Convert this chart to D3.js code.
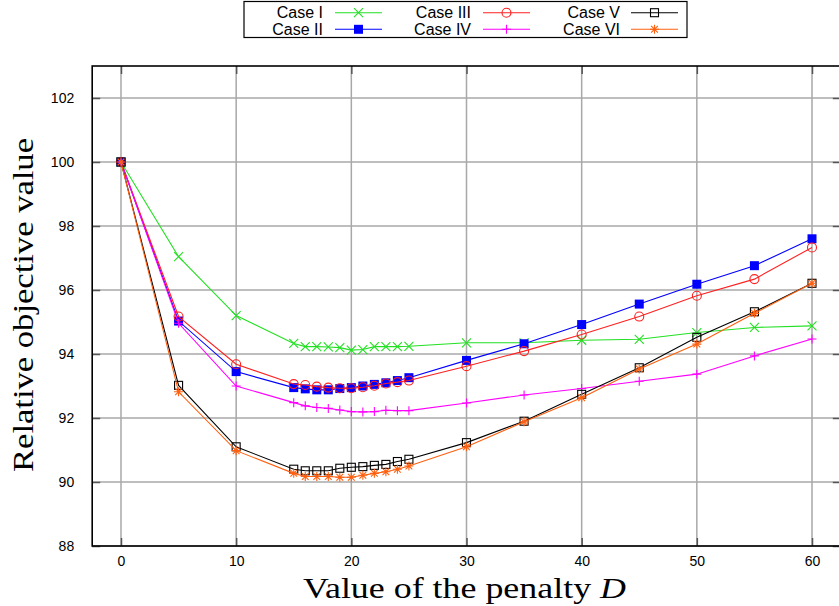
<!DOCTYPE html>
<html>
<head>
<meta charset="utf-8">
<script src="https://cdn.jsdelivr.net/npm/d3@7/dist/d3.min.js"></script>
<style>
html,body{margin:0;padding:0;background:#fff;}
svg{display:block;}
</style>
</head>
<body>
<svg id="chart" width="839" height="606"></svg>
<script>
const xValues = [0,5,10,15,16,17,18,19,20,21,22,23,24,25,30,35,40,45,50,55,60];
const caseI   = [100,97.04,95.2,94.33,94.23,94.23,94.22,94.2,94.12,94.14,94.23,94.23,94.23,94.24,94.35,94.35,94.43,94.46,94.67,94.83,94.88];
const caseII  = [100,95.03,93.45,92.95,92.91,92.88,92.88,92.92,92.95,93.0,93.05,93.1,93.17,93.26,93.8,94.32,94.92,95.56,96.18,96.76,97.6];
const caseIII = [100,95.17,93.68,93.06,93.03,92.98,92.95,92.93,92.93,92.96,93.01,93.08,93.12,93.17,93.62,94.09,94.61,95.17,95.82,96.34,97.33];
const caseIV  = [100,94.96,93.0,92.48,92.38,92.33,92.3,92.25,92.2,92.19,92.2,92.24,92.23,92.23,92.47,92.72,92.92,93.15,93.37,93.94,94.47];
const caseV   = [100,93.02,91.1,90.4,90.35,90.35,90.35,90.43,90.46,90.48,90.52,90.55,90.64,90.71,91.23,91.9,92.74,93.57,94.52,95.32,96.21];
const caseVI  = [100,92.82,90.98,90.27,90.17,90.17,90.17,90.15,90.15,90.21,90.27,90.32,90.4,90.5,91.1,91.88,92.63,93.53,94.31,95.27,96.21];
const seriesNames = ["Case I","Case II","Case III","Case IV","Case V","Case VI"];
const xTicks = [0,10,20,30,40,50,60];
const yTicks = [88,90,92,94,96,98,100,102];

const allSeries = [caseI, caseII, caseIII, caseIV, caseV, caseVI];
const colors = ["#22e022","#0000ff","#ff2020","#ff00ff","#000000","#ff6010"];
const markers = ["x","fsquare","circle","plus","square","star"];

const svg = d3.select("#chart");
const L = 92.2, T = 66, W = 748.6, H = 480;
const x = d3.scaleLinear().domain([-2.5, 62.5]).range([L, L + W]);
const y = d3.scaleLinear().domain([88, 103]).range([T + H, T]);

const defs = svg.append("defs");
defs.append("clipPath").attr("id","clip").append("rect")
  .attr("x", L).attr("y", T).attr("width", W).attr("height", H);

// grid
const grid = svg.append("g");
grid.selectAll("line.gx").data(xTicks).join("line")
  .attr("x1", d => x(d)).attr("x2", d => x(d)).attr("y1", T).attr("y2", T + H)
  .attr("stroke", "#a8a8a8").attr("stroke-width", 1.5);
grid.selectAll("line.gy").data(yTicks).join("line")
  .attr("x1", L).attr("x2", L + W).attr("y1", d => y(d)).attr("y2", d => y(d))
  .attr("stroke", "#a8a8a8").attr("stroke-width", 1.5);

// axes (inward ticks)
const tickLen = 8;
const axB = svg.append("g").attr("transform", `translate(0,${T+H})`)
  .call(d3.axisBottom(x).tickValues(xTicks).tickSizeInner(-tickLen).tickSizeOuter(0).tickPadding(10));
const axT = svg.append("g").attr("transform", `translate(0,${T})`)
  .call(d3.axisTop(x).tickValues(xTicks).tickSizeInner(-tickLen).tickSizeOuter(0).tickFormat(""));
const axLft = svg.append("g").attr("transform", `translate(${L},0)`)
  .call(d3.axisLeft(y).tickValues(yTicks).tickSizeInner(-tickLen).tickSizeOuter(0).tickPadding(18));
const axR = svg.append("g").attr("transform", `translate(${L+W},0)`)
  .call(d3.axisRight(y).tickValues(yTicks).tickSizeInner(-tickLen).tickSizeOuter(0).tickFormat(""));
[axB, axT, axLft, axR].forEach(a => {
  a.select(".domain").remove();
  a.selectAll(".tick line").attr("stroke", "#555").attr("stroke-width", 1.5);
  a.selectAll("text").attr("font-family", "Liberation Sans, Arial, sans-serif").attr("font-size", 14).attr("fill", "#000");
});

// frame
svg.append("rect").attr("x", L).attr("y", T).attr("width", W).attr("height", H)
  .attr("fill", "none").attr("stroke", "#000").attr("stroke-width", 1.6);

// marker drawing
function drawMarker(g, type, color, cx, cy) {
  const s = 4.5;
  if (type === "x") {
    g.append("path").attr("d", `M${cx-s},${cy-s}L${cx+s},${cy+s}M${cx-s},${cy+s}L${cx+s},${cy-s}`)
      .attr("stroke", color).attr("stroke-width", 1.1).attr("fill", "none");
  } else if (type === "plus") {
    g.append("path").attr("d", `M${cx-s},${cy}L${cx+s},${cy}M${cx},${cy-s}L${cx},${cy+s}`)
      .attr("stroke", color).attr("stroke-width", 1.1).attr("fill", "none");
  } else if (type === "fsquare") {
    g.append("rect").attr("x", cx-s).attr("y", cy-s).attr("width", 2*s).attr("height", 2*s)
      .attr("fill", color);
  } else if (type === "square") {
    g.append("rect").attr("x", cx-s+0.5).attr("y", cy-s+0.5).attr("width", 2*s-1).attr("height", 2*s-1)
      .attr("fill", "none").attr("stroke", color).attr("stroke-width", 1.1);
  } else if (type === "circle") {
    g.append("circle").attr("cx", cx).attr("cy", cy).attr("r", s)
      .attr("fill", "none").attr("stroke", color).attr("stroke-width", 1.1);
  } else if (type === "star") {
    g.append("path").attr("d", `M${cx-s},${cy}L${cx+s},${cy}M${cx},${cy-s}L${cx},${cy+s}M${cx-s*0.75},${cy-s*0.75}L${cx+s*0.75},${cy+s*0.75}M${cx-s*0.75},${cy+s*0.75}L${cx+s*0.75},${cy-s*0.75}`)
      .attr("stroke", color).attr("stroke-width", 1.1).attr("fill", "none");
  }
}

// series
const plot = svg.append("g").attr("clip-path", "url(#clip)");
const line = d3.line().x(d => x(d[0])).y(d => y(d[1]));
allSeries.forEach((vals, i) => {
  const pts = xValues.map((xv, j) => [xv, vals[j]]);
  const g = plot.append("g");
  g.append("path").datum(pts).attr("d", line)
    .attr("fill", "none").attr("stroke", colors[i]).attr("stroke-width", 1.1);
  pts.forEach(p => drawMarker(g, markers[i], colors[i], x(p[0]), y(p[1])));
});

// axis titles
const xt = svg.append("text").attr("x", 464.5).attr("y", 598)
  .attr("text-anchor", "middle").attr("font-family", "Liberation Serif, Times New Roman, serif")
  .attr("font-size", 30).attr("fill", "#000")
  .attr("textLength", 323).attr("lengthAdjust", "spacingAndGlyphs");
xt.append("tspan").text("Value of the penalty ");
xt.append("tspan").attr("font-style", "italic").text("D");

svg.append("text").attr("transform", "translate(33,305) rotate(-90)")
  .attr("text-anchor", "middle").attr("font-family", "Liberation Serif, Times New Roman, serif")
  .attr("font-size", 30).attr("fill", "#000")
  .attr("textLength", 334).attr("lengthAdjust", "spacingAndGlyphs")
  .text("Relative objective value");

// legend
const lg = svg.append("g");
lg.append("rect").attr("x", 244).attr("y", 1.5).attr("width", 443).attr("height", 36)
  .attr("fill", "#fff").attr("stroke", "#000").attr("stroke-width", 1.2);
const colTextEnd = [323, 471, 620];
const colLineStart = [335, 483, 631];
const rowY = [12.7, 29.3];
seriesNames.forEach((name, i) => {
  const col = Math.floor(i / 2), row = i % 2;
  const cy = rowY[row];
  lg.append("text").attr("x", colTextEnd[col]).attr("y", cy).attr("dy", "0.36em")
    .attr("text-anchor", "end").attr("font-family", "Liberation Sans, Arial, sans-serif")
    .attr("font-size", 16).attr("fill", "#000").text(name);
  lg.append("line").attr("x1", colLineStart[col]).attr("x2", colLineStart[col] + 47)
    .attr("y1", cy).attr("y2", cy).attr("stroke", colors[i]).attr("stroke-width", 1.1);
  drawMarker(lg, markers[i], colors[i], colLineStart[col] + 23.5, cy);
});
</script>
</body>
</html>
